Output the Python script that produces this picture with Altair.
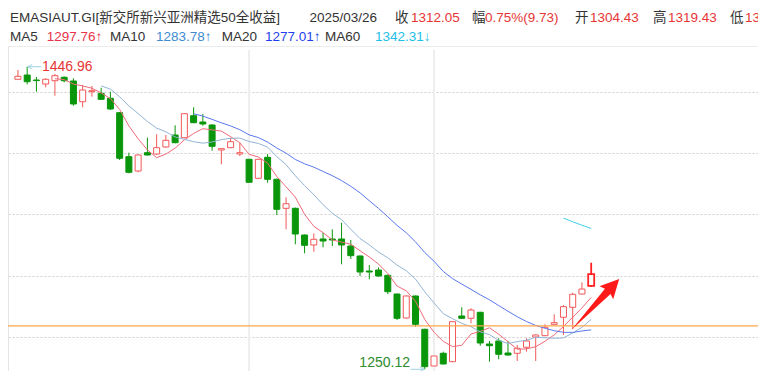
import altair as alt
import pandas as pd

# ---------------- data ----------------
opens = [1438.77, 1441.56, 1438.31, 1435.71, 1437.85, 1440.07, 1437.66, 1424.19, 1430.70, 1429.66,
         1426.41, 1417.04, 1388.42, 1379.11, 1391.02, 1390.17, 1394.73, 1402.53, 1400.78, 1415.09,
         1410.99, 1409.04, 1392.77, 1394.27, 1390.17, 1386.72, 1374.37, 1388.03, 1373.72, 1354.85,
         1354.85, 1337.48, 1330.98, 1334.88, 1334.88, 1334.88, 1330.33, 1323.82, 1314.06, 1314.71,
         1311.27, 1299.10, 1283.49, 1297.80, 1276.14, 1252.27, 1260.53, 1255.06, 1284.79, 1283.30,
         1287.20, 1266.58, 1268.53, 1260.72, 1260.53, 1264.43, 1271.13, 1271.98, 1279.39, 1283.95,
         1290.45, 1299.10, 1304.43]
closes = [1440.72, 1437.20, 1437.92, 1438.77, 1441.11, 1437.85, 1422.70, 1431.80, 1431.35, 1425.76,
          1419.45, 1387.38, 1378.27, 1389.52, 1389.52, 1394.27, 1399.08, 1397.52, 1416.39, 1410.53,
          1409.69, 1395.18, 1393.62, 1398.17, 1391.02, 1371.76, 1386.72, 1373.72, 1354.20, 1357.84,
          1338.13, 1330.78, 1334.69, 1333.58, 1334.23, 1330.98, 1324.02, 1313.41, 1313.41, 1310.81,
          1300.60, 1283.30, 1297.80, 1279.39, 1251.81, 1258.77, 1253.57, 1281.08, 1283.30, 1288.69,
          1267.23, 1265.47, 1259.88, 1259.42, 1263.78, 1268.53, 1272.43, 1277.44, 1280.43, 1290.84,
          1298.91, 1302.32, 1312.05]
highs = [1444.81, 1446.96, 1440.26, 1439.42, 1442.21, 1440.72, 1439.42, 1435.06, 1434.41, 1433.30,
         1430.70, 1417.49, 1391.02, 1389.80, 1400.78, 1402.99, 1402.53, 1408.84, 1416.60, 1420.55,
         1416.19, 1409.50, 1393.80, 1400.78, 1397.52, 1387.38, 1387.00, 1390.17, 1374.20, 1362.01,
         1355.30, 1337.80, 1338.59, 1338.98, 1341.19, 1345.48, 1334.23, 1324.20, 1317.97, 1316.47,
         1311.60, 1299.40, 1298.10, 1298.10, 1276.50, 1266.38, 1261.57, 1281.30, 1290.45, 1289.80,
         1287.50, 1268.53, 1270.29, 1268.53, 1265.93, 1270.29, 1272.89, 1279.39, 1285.90, 1291.95,
         1299.95, 1306.71, 1319.43]
lows = [1438.77, 1435.51, 1430.70, 1433.56, 1428.10, 1436.81, 1421.59, 1420.55, 1427.45, 1425.30,
        1418.79, 1386.27, 1377.62, 1378.27, 1389.20, 1389.52, 1394.27, 1397.13, 1400.50, 1410.30,
        1408.58, 1392.32, 1383.47, 1394.00, 1388.87, 1359.14, 1374.10, 1371.50, 1350.49, 1341.19,
        1331.43, 1325.58, 1326.62, 1329.48, 1330.33, 1318.42, 1321.87, 1310.81, 1308.66, 1310.36,
        1299.10, 1282.19, 1283.20, 1277.83, 1250.12, 1251.81, 1253.30, 1254.80, 1282.84, 1280.04,
        1265.47, 1255.06, 1256.63, 1258.97, 1255.52, 1261.57, 1255.52, 1271.70, 1279.10, 1272.43,
        1276.34, 1298.80, 1303.70]

ma_windows = [5, 10, 20, 60]
grid_prices = [1430.5, 1390.8, 1351.1, 1311.0, 1271.1]
ref_price = 1278.3            # orange horizontal line
month_marks = [25, 45]        # faint vertical separators (candle index)

# header values
title_text = "EMASIAUT.GI[新交所新兴亚洲精选50全收益]"
date_text = "2025/03/26"
quote_labels = ["收", "幅", "开", "高", "低"]
quote_values = ["1312.05", "0.75%(9.73)", "1304.43", "1319.43", "1303.70"]
ma_labels = ["MA5", "MA10", "MA20", "MA60"]
ma_values = ["1297.76↑", "1283.78↑", "1277.01↑", "1342.31↓"]

# ---------------- styling ----------------
FONT = "Liberation Sans, Noto Sans CJK SC"
RED = "#f25858"
RED_LAST = "#ff2020"
GREEN = "#0a960a"
TXT = "#333333"
RED_TXT = "#e63535"
MA_COLORS = ["#f06a78", "#92b4d6", "#5a78f0", "#40d0ea"]
MA_TXT_COLORS = ["#e8334a", "#3d8bd0", "#1f3ff0", "#1ec0e8"]

W, H = 750, 363
xscale = alt.Scale(domain=[-0.5336, 79.50], nice=False, zero=False)
yscale = alt.Scale(domain=[1249.01, 1485.15], nice=False, zero=False)
yaxis = alt.Axis(values=grid_prices, labels=False, ticks=False, domain=False, title=None,
                 grid=True, gridDash=[2, 2], gridColor="#cfcfcf", gridWidth=1)


def X(f="i:Q", **kw):
    return alt.X(f, scale=xscale, axis=None, **kw)


def Y(f, **kw):
    return alt.Y(f, scale=yscale, axis=yaxis, **kw)


df = pd.DataFrame({"i": list(range(len(opens))), "open": opens, "close": closes,
                   "high": highs, "low": lows})
last_i = len(opens) - 1
up = "datum.close >= datum.open"

base = alt.Chart(df)
hist = base.transform_filter(f"datum.i < {last_i}")
last = base.transform_filter(f"datum.i == {last_i}")

wicks = hist.mark_rule(strokeWidth=1).encode(
    x=X(), y=Y("low:Q"), y2="high:Q",
    color=alt.condition(up, alt.value(RED), alt.value(GREEN)),
)
bodies = hist.mark_bar(size=6, strokeWidth=1).encode(
    x=X(), y=Y("open:Q"), y2="close:Q",
    fill=alt.condition(up, alt.value("white"), alt.value(GREEN)),
    stroke=alt.condition(up, alt.value(RED), alt.value(GREEN)),
)
last_wick = last.mark_rule(strokeWidth=1.8, color=RED_LAST).encode(
    x=X(), y=Y("low:Q"), y2="high:Q")
last_body = last.mark_bar(size=6, strokeWidth=1.8, fill="white", stroke=RED_LAST).encode(
    x=X(), y=Y("open:Q"), y2="close:Q")

ma_layers = []
for n, col in zip(ma_windows, MA_COLORS):
    ma_layers.append(
        base.transform_window(ma="mean(close)", cnt="count()", frame=[-(n - 1), 0],
                              sort=[alt.SortField("i")])
        .transform_filter(f"datum.cnt >= {n}")
        .mark_line(color=col, strokeWidth=1)
        .encode(x=X(), y=Y("ma:Q"))
    )

seps = alt.Chart(pd.DataFrame({"i": month_marks})).mark_rule(color="#eeeeee", strokeWidth=2).encode(
    x=X(), y=alt.value(42), y2=alt.value(H))
left_sep = alt.Chart(pd.DataFrame({"a": [0]})).mark_rule(color="#e4e4e4", strokeWidth=1).encode(
    x=alt.value(0.5), y=alt.value(38), y2=alt.value(H))
top_sep = alt.Chart(pd.DataFrame({"a": [0]})).mark_rule(color="#ececec", strokeWidth=1).encode(
    x=alt.value(0), x2=alt.value(W), y=alt.value(38.5))

orange = alt.Chart(pd.DataFrame({"p": [ref_price]})).mark_rule(color="#ffa64d", strokeWidth=1.2).encode(
    y=Y("p:Q"))

# max / min labels
hi_i = highs.index(max(highs))
lo_i = lows.index(min(lows))
hi_ann = pd.DataFrame({"i": [hi_i], "p": [max(highs)], "t": [f"{max(highs):.2f}"]})
lo_ann = pd.DataFrame({"i": [lo_i], "p": [min(lows)], "t": [f"{min(lows):.2f}"]})

hi_line = alt.Chart(hi_ann).mark_rule(color="#9fd3e6", strokeWidth=1).encode(
    x=X("x1:Q"), x2="x2:Q", y=Y("p:Q")).transform_calculate(x1="datum.i + 0.08", x2="datum.i + 1.55")
hi_head = alt.Chart(hi_ann).mark_point(shape="M 1 -1 L -1 0 L 1 1", filled=False, size=20,
                                        color="#9fd3e6", strokeWidth=1, opacity=1).encode(
    x=X("x1:Q"), y=Y("p:Q")).transform_calculate(x1="datum.i + 0.3")
hi_text = alt.Chart(hi_ann).mark_text(align="left", baseline="middle", font=FONT, fontSize=14,
                                      color=RED_TXT).encode(
    x=X("x1:Q"), y=Y("p:Q"), text="t:N").transform_calculate(x1="datum.i + 1.6")

lo_line = alt.Chart(lo_ann).mark_rule(color="#9fd3e6", strokeWidth=1).encode(
    x=X("x1:Q"), x2="x2:Q", y=Y("p:Q")).transform_calculate(x1="datum.i - 1.55", x2="datum.i - 0.05")
lo_head = alt.Chart(lo_ann).mark_point(shape="M -1 -1 L 1 0 L -1 1", filled=False, size=20,
                                        color="#9fd3e6", strokeWidth=1, opacity=1).encode(
    x=X("x1:Q"), y=Y("p:Q")).transform_calculate(x1="datum.i - 0.3")
lo_text = alt.Chart(lo_ann).mark_text(align="right", baseline="alphabetic", font=FONT, fontSize=14,
                                      color="#2e8b2e", dy=-2).encode(
    x=X("x1:Q"), y=Y("p:Q"), text="t:N").transform_calculate(x1="datum.i - 1.6")

# big red trend arrow (annotation)
ARROW = "M -1 0 L 0.52 -0.11 L 0.46 -0.27 L 1 0 L 0.46 0.27 L 0.52 0.11 Z"
arrow = alt.Chart(pd.DataFrame({"i": [62.45], "p": [1292.3]})).mark_point(
    shape=ARROW, filled=True, color="#ff1a1a", size=4850, angle=313.2, opacity=1, strokeWidth=0
).encode(x=X(), y=Y("p:Q"))


def txt(text, x, baseline_y, color, size=13.5):
    return alt.Chart(pd.DataFrame({"t": [text]})).mark_text(
        align="left", baseline="alphabetic", font=FONT, fontSize=size, color=color
    ).encode(x=alt.value(x - 8), y=alt.value(baseline_y - 8), text="t:N")


L1, L2 = 21.5, 40.5   # page baselines of the two header lines
header = [txt(title_text, 10, L1, TXT), txt(date_text, 309.5, L1, TXT)]
q_label_x = [395, 472, 575, 653, 730]
q_value_x = [411, 485, 590, 668, 745]
for lab, val, lx, vx in zip(quote_labels, quote_values, q_label_x, q_value_x):
    header.append(txt(lab, lx, L1, TXT))
    header.append(txt(val, vx, L1, RED_TXT))
ma_label_x = [10, 110, 221.7, 325]
ma_value_x = [46.7, 156, 265, 375]
for lab, val, lx, vx, col in zip(ma_labels, ma_values, ma_label_x, ma_value_x, MA_TXT_COLORS):
    header.append(txt(lab, lx, L2, TXT))
    header.append(txt(val, vx, L2, col))

chart = alt.layer(
    wicks, seps, left_sep, top_sep, bodies, last_wick, last_body, *ma_layers, orange,
    hi_line, hi_head, hi_text, lo_line, lo_head, lo_text, arrow, *header
).properties(
    width=W, height=H, padding=0, autosize=alt.AutoSizeParams(type="none"),
    background="white",
).configure_view(stroke=None)

chart.save("out.html", embed_options={"renderer": "svg", "actions": False})
